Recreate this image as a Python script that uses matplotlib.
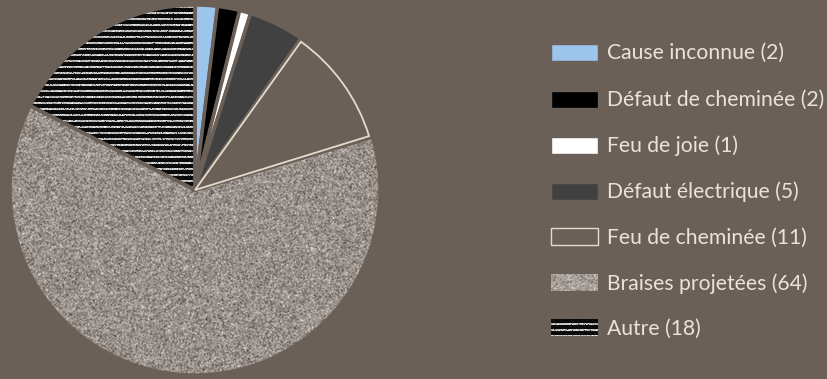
import numpy as np
import matplotlib
matplotlib.use("Agg")
import matplotlib.pyplot as plt
from matplotlib.patches import Rectangle, Wedge

# données
labels = ["Cause inconnue", "Défaut de cheminée", "Feu de joie", "Défaut électrique",
          "Feu de cheminée", "Braises projetées", "Autre"]
values = [2, 2, 1, 5, 11, 64, 18]
colors = ["#9cc5ee", "#000000", "#ffffff", "#414141", "#6b6058", "#8f867f", "#050505"]

bg = "#6b6058"
txt = "#ebe3db"
W, H = 828, 379
R = 185.0
cx, cy = 195.0, 190.0

fig = plt.figure(figsize=(W / 100, H / 100), dpi=100)
fig.patch.set_facecolor(bg)
ax = fig.add_axes([0, 0, 1, 1])
ax.set_facecolor(bg)
extent = (-cx / R, (W - cx) / R, -(H - cy) / R, cy / R)

wedges, _ = ax.pie(values, colors=colors, startangle=90, counterclock=False,
                   radius=1.0, center=(0, 0), frame=True,
                   wedgeprops=dict(edgecolor=bg, linewidth=2.5))

# textures (grain pour "Braises", lignes pour "Autre")
rng = np.random.default_rng(3)

def smooth(a):
    return (a + np.roll(a, 1, 0) + np.roll(a, 1, 1) + np.roll(np.roll(a, 1, 0), 1, 1)) / 4

noise = smooth(rng.normal(0, 36, (H, W))) + rng.normal(0, 8, (H, W))
braise = np.clip(np.stack([152 + noise, 144 + noise, 138 + noise], -1), 0, 255) / 255

yy = np.arange(H)[:, None] * np.ones((1, W))
lines = (yy % 6) < 2
grain = rng.normal(0, 30, (H, W))
val = np.where(lines, 190 + grain, 6 + np.abs(grain) * 0.2)
val = np.where(lines & (rng.random((H, W)) < 0.03), 40, val)
autre = np.clip(np.stack([val, val, val], -1), 0, 255) / 255

for w, img in [(wedges[5], braise), (wedges[6], autre)]:
    w.set_facecolor("none")
    im = ax.imshow(img, extent=extent, origin="upper", zorder=0.5, interpolation="nearest")
    clip = Wedge(w.center, w.r, w.theta1, w.theta2, transform=ax.transData)
    im.set_clip_path(clip)
    w.set_zorder(1)

# contour clair de "Feu de cheminée"
w = wedges[4]
ax.add_patch(Wedge((0, 0), 0.985, w.theta1 + 0.6, w.theta2 - 0.6,
                   facecolor="none", edgecolor="#e6dacb", linewidth=1.3, zorder=2))

# légende
def px(x, y):
    return ((x - cx) / R, (cy - y) / R)

rows = [52, 99, 145, 191, 237, 283, 328]
pw, ph = 47 / R, 17 / R
for i, (lab, v) in enumerate(zip(labels, values)):
    x0, y0 = px(551, rows[i] + 8.5)
    if i in (5, 6):
        img = braise if i == 5 else autre
        im = ax.imshow(img, extent=extent, origin="upper", zorder=0.5, interpolation="nearest")
        rect = Rectangle((x0, y0), pw, ph, transform=ax.transData)
        im.set_clip_path(rect)
        if i == 5:
            ax.add_patch(Rectangle((x0, y0), pw, ph, facecolor="#ffffff", alpha=0.12,
                                   edgecolor="none", zorder=1))
    else:
        ec = "#e6dacb" if i == 4 else bg
        ax.add_patch(Rectangle((x0, y0), pw, ph, facecolor=colors[i],
                               edgecolor=ec, linewidth=1.0, zorder=1))
    tx, ty = px(607, rows[i] + 1)
    ax.text(tx, ty, f"{lab} ({v})", color=txt, fontsize=15.2, family="Lato",
            fontweight="normal", va="center", ha="left")

ax.set_xlim(extent[0], extent[1])
ax.set_ylim(extent[2], extent[3])
ax.set_aspect("equal")
ax.axis("off")
fig.savefig("out.png", dpi=100, facecolor=bg)
